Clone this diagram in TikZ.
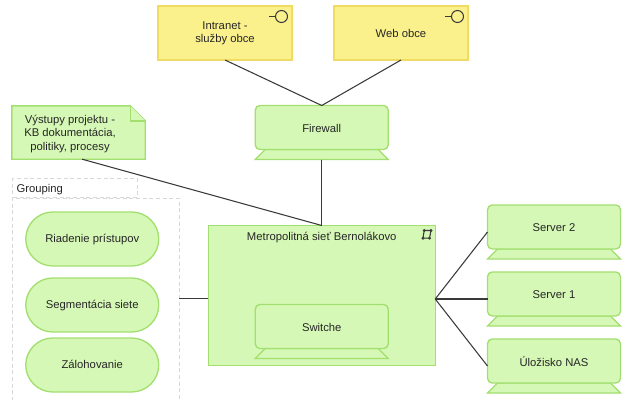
\documentclass[tikz,border=0pt]{standalone}
\usepackage{fontspec}
\setmainfont{Liberation Sans}
\usepackage{xcolor}
\usepackage{tikz}
\usetikzlibrary{positioning, calc, shapes.misc}
\definecolor{techfill}{HTML}{D6F8B6}
\definecolor{techline}{HTML}{A2DF6E}
\definecolor{appfill}{HTML}{FBF18C}
\definecolor{appline}{HTML}{F0DC62}
\definecolor{linkline}{HTML}{3A3A3A}
\definecolor{groupline}{HTML}{D8D8D8}
\newcommand{\devicenode}[3]{%
\node[devicebox, #1] (#2) {};
\draw[greenline] ($(#2.south west)+(10,-10)$) -- (#2.south west) -- (#2.south east) -- ($(#2.south east)+(-10,-10)$) -- cycle;
\draw[greenline, rounded corners=3.5pt] (#2.north west) rectangle ($(#2.south east)+(0,-10)$);
\node[lbl] (#2text) at ($(#2.center)+(0,-4)$) {#3};
}

\begin{document}
\begin{tikzpicture}[x=0.75pt, y=-0.75pt, node distance=9.75pt,
  lbl/.style={font=\fontsize{8.45}{10.1}\selectfont, text=black!85, align=center, inner sep=0pt},
  greenline/.style={draw=techline, fill=techfill, line width=1pt},
  devicebox/.style={minimum width=99.75pt, minimum height=40.5pt, inner sep=0pt, outer sep=0pt},
  pill/.style={rounded rectangle, greenline, lbl, text height=7pt, text depth=1.5pt, minimum width=99.75pt, minimum height=40.5pt, outer sep=0pt},
  iface/.style={draw=appline, fill=appfill, line width=1pt, minimum width=100.5pt, minimum height=40.5pt, outer sep=0pt},
  link/.style={draw=linkline, line width=0.8pt},
  grouped/.style={draw=groupline, line width=0.75pt, dash pattern=on 3pt off 2pt}]
\useasboundingbox (0,0) rectangle (629,400);

\node[iface] (intranet) at (225,33) {};
\node[iface] (webobce) at (401,33) {};
\node[lbl] (intranettext) at (225,33.5) {Intranet -\\služby obce};
\node[lbl] (webobcetext) at (401,33.5) {Web obce};
\foreach \n in {intranet, webobce} {
  \draw[link] ($(\n.north east)+(-10.5,10.5)$) circle (6);
  \draw[link] ($(\n.north east)+(-16.5,10.5)$) -- ++(-7,0);
}

\node[minimum width=170.25pt, minimum height=105pt, outer sep=0pt, greenline] (metro) at (321.75,295.5) {};
\node[lbl, below=5pt of metro.north] (metrotitle) {Metropolitná sieť Bernolákovo};
\draw[link] ($(metro.north east)+(-12.3,12.7)$) -- ($(metro.north east)+(-11,5)$) -- ($(metro.north east)+(-4.3,5)$) -- ($(metro.north east)+(-5.7,12.7)$) -- cycle;
\foreach \p in {{-12.3,12.7}, {-11,5}, {-4.3,5}, {-5.7,12.7}} {
  \fill[linkline] ($(metro.north east)+(\p)$) circle (1.6);
}

\devicenode{above=5.25pt of metro.south}{switch}{Switche}
\devicenode{above=49.5pt of metro}{firewall}{Firewall}
\devicenode{at={(554,232)}}{server2}{Server 2}
\devicenode{below=of server2}{server1}{Server 1}
\devicenode{below=of server1}{nas}{Úložisko NAS}

\node[minimum width=100pt, minimum height=40pt, outer sep=0pt] (note) at (78.5,132.5) {};
\draw[greenline] (note.south west) -- (note.north west) -- ($(note.north east)+(-15,0)$) -- ($(note.north east)+(0,15)$) -- (note.south east) -- cycle;
\draw[greenline] ($(note.north east)+(-15,0)$) |- ($(note.north east)+(0,15)$);
\node[lbl] (notetext) at (70,134) {Výstupy projektu -\\KB dokumentácia,\\politiky, procesy};

\node[minimum width=124.9pt, minimum height=150.75pt, inner sep=0pt, outer sep=0pt] (groupbody) at (95.75,298.5) {};
\node[grouped, lbl, anchor=south west, minimum width=93.4pt, minimum height=14.25pt, text width=88pt, text height=7pt, text depth=1pt, align=left] (grouptab) at (groupbody.north west) {Grouping};
\draw[grouped] ($(groupbody.south west)+(0,2)$) -- (groupbody.north west) -- (groupbody.north east) -- ($(groupbody.south east)+(0,2)$);
\node[pill] (riadenie) at (92.25,239) {Riadenie prístupov};
\node[pill, below=9pt of riadenie] (segment) {Segmentácia siete};
\node[pill, below=4.5pt of segment] (zaloha) {Zálohovanie};

\draw[link] (intranet.south) -- (firewall.north);
\draw[link] (webobce.south) -- (firewall.north);
\draw[link] (firewall.south) -- (metro.north);
\draw[link] ($(note.south)+(3.5,0)$) -- (metro.north);
\draw[link] (groupbody.east) -- (metro.west |- groupbody.east);
\draw[link] (server2.west) -- (metro.east |- server1.west);
\draw[link] (server1.west) -- (metro.east |- server1.west);
\draw[link] (nas.west) -- (metro.east |- server1.west);
\end{tikzpicture}
\end{document}
